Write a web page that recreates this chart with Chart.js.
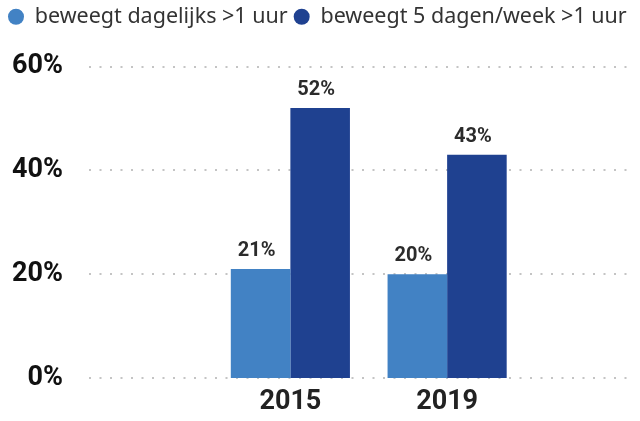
<!DOCTYPE html>
<html>
<head>
<meta charset="utf-8">
<script src="https://cdn.jsdelivr.net/npm/chart.js@4"></script>
<style>
  html, body { margin: 0; padding: 0; background: #fff; overflow: hidden; }
  canvas { display: block; }
</style>
</head>
<body>
<canvas id="c" width="640" height="421"></canvas>
<script>
// Beweegnorm: aandeel dat voldoende beweegt, per meetjaar
const years = ['2015', '2019'];
const seriesNames = ['beweegt dagelijks >1 uur', 'beweegt 5 dagen/week >1 uur'];
const dailyValues = [21, 20];
const fiveDayValues = [52, 43];
const yTicks = [0, 20, 40, 60];
const seriesColors = ['#4282C4', '#1F4190'];

// dotted horizontal guides spanning the full plot width, behind the bars
const guideLines = {
  id: 'guideLines',
  beforeDatasetsDraw(chart) {
    const ctx = chart.ctx;
    const y = chart.scales.y;
    ctx.save();
    ctx.strokeStyle = '#c4c4c4';
    ctx.lineWidth = 2;
    ctx.setLineDash([2, 8.5]);
    y.ticks.forEach(t => {
      const py = Math.round(y.getPixelForValue(t.value));
      ctx.beginPath();
      ctx.moveTo(89, py);
      ctx.lineTo(634, py);
      ctx.stroke();
    });
    ctx.restore();
  }
};

// value labels above each bar
const valueLabels = {
  id: 'valueLabels',
  afterDatasetsDraw(chart) {
    const ctx = chart.ctx;
    ctx.save();
    ctx.font = 'bold 20px Roboto';
    ctx.fillStyle = '#2b2b2b';
    ctx.textAlign = 'center';
    ctx.textBaseline = 'alphabetic';
    chart.data.datasets.forEach((ds, i) => {
      chart.getDatasetMeta(i).data.forEach((bar, j) => {
        ctx.fillText(ds.data[j] + '%', bar.x - 4, bar.y - 13);
      });
    });
    ctx.restore();
  }
};

// extra room below the legend
const legendSpacing = {
  id: 'legendSpacing',
  beforeInit(chart) {
    const fit = chart.legend.fit;
    chart.legend.fit = function () {
      fit.call(this);
      this.height += 29;
    };
  }
};

new Chart(document.getElementById('c'), {
  type: 'bar',
  data: {
    labels: years,
    datasets: [
      { label: seriesNames[0], data: dailyValues, backgroundColor: seriesColors[0] },
      { label: seriesNames[1], data: fiveDayValues, backgroundColor: seriesColors[1] }
    ]
  },
  options: {
    responsive: false,
    animation: false,
    datasets: { bar: { categoryPercentage: 0.76, barPercentage: 1.0 } },
    layout: { padding: { left: 2, right: 0, top: 0, bottom: 0 } },
    plugins: {
      tooltip: { enabled: false },
      legend: {
        position: 'top',
        align: 'start',
        labels: {
          usePointStyle: true,
          pointStyle: 'circle',
          boxHeight: 11.3,
          pointStyleWidth: 16,
          padding: 6,
          color: '#333333',
          font: { family: 'Noto Sans', size: 21.5 }
        }
      }
    },
    scales: {
      x: {
        grid: { display: false, drawTicks: false },
        border: { display: false },
        ticks: { color: '#222222', padding: 8, font: { family: 'Roboto', weight: 'bold', size: 27 } },
        afterFit(s) { s.height = 43; }
      },
      y: {
        min: 0,
        max: 60,
        afterBuildTicks(s) { s.ticks = yTicks.map(v => ({ value: v })); },
        grid: { display: false, drawTicks: false },
        border: { display: false },
        ticks: {
          color: '#111111',
          padding: 149,
          font: { family: 'Roboto', weight: 'bold', size: 27 },
          callback: v => v + '%'
        },
        afterFit(s) {
          s.width = 210;
          s.paddingTop = 14;
          s.paddingBottom = 14;
        }
      },
      yRight: {
        position: 'right',
        display: true,
        grid: { display: false, drawTicks: false },
        border: { display: false },
        ticks: { display: false },
        afterFit(s) { s.width = 114.5; }
      }
    }
  },
  plugins: [guideLines, valueLabels, legendSpacing]
});
</script>
</body>
</html>
